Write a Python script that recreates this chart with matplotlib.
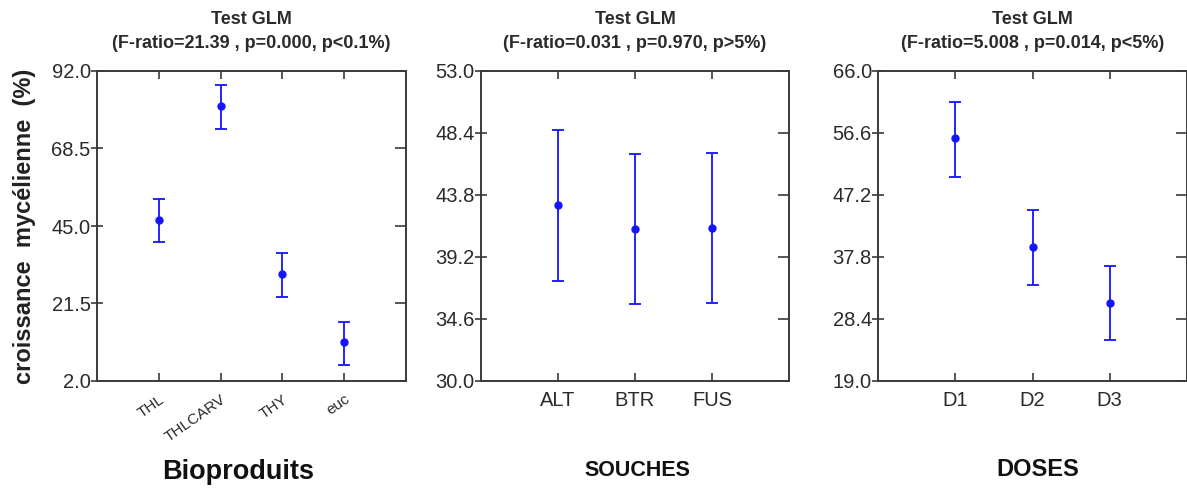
import matplotlib
matplotlib.use("Agg")
import matplotlib.pyplot as plt
import numpy as np

plt.rcParams['font.family'] = ['Liberation Sans', 'DejaVu Sans']

# Panel 1: Bioproduits
bio_cats = ["THL", "THLCARV", "THY", "euc"]
bio_mean = [46.7, 81.4, 30.3, 9.7]
bio_low = [40.0, 74.5, 23.5, 2.8]
bio_high = [53.1, 87.7, 36.9, 16.0]
bio_ticks = [-2.0, 21.5, 45.0, 68.5, 92.0]
bio_ticklabels = ["2.0", "21.5", "45.0", "68.5", "92.0"]

# Panel 2: Souches
sou_cats = ["ALT", "BTR", "FUS"]
sou_mean = [43.05, 41.3, 41.36]
sou_low = [37.4, 35.7, 35.76]
sou_high = [48.6, 46.86, 46.9]
sou_ticks = [30.0, 34.6, 39.2, 43.8, 48.4, 53.0]

# Panel 3: Doses
dos_cats = ["D1", "D2", "D3"]
dos_mean = [55.8, 39.3, 30.9]
dos_low = [50.0, 33.6, 25.2]
dos_high = [61.3, 44.9, 36.5]
dos_ticks = [19.0, 28.4, 37.8, 47.2, 56.6, 66.0]

titles = ["(F-ratio=21.39 , p=0.000, p<0.1%)",
          "(F-ratio=0.031 , p=0.970, p>5%)",
          "(F-ratio=5.008 , p=0.014, p<5%)"]

W, H = 1187, 488
fig = plt.figure(figsize=(W / 100, H / 100), dpi=100)

blue = "#1414ff"
dark = "#2a2a2a"

def make_axes(left_px, right_px):
    return fig.add_axes([left_px / W, 1 - 381 / H, (right_px - left_px) / W, (381 - 71) / H])

def style(ax, yticks, ylabels):
    ax.set_yticks(yticks)
    ax.set_yticklabels(ylabels)
    ax.set_ylim(yticks[0], yticks[-1])
    for s in ax.spines.values():
        s.set_linewidth(1.4)
        s.set_color("#3a3a3a")
    ax.tick_params(axis="y", which="both", direction="inout", length=9, width=1.2,
                   labelsize=14.5, pad=0, colors="#3a3a3a", labelcolor=dark,
                   right=True)
    ax.tick_params(axis="y", which="both", right=True)
    ax.tick_params(axis="x", direction="in", length=6, width=1.2, top=True,
                   colors="#3a3a3a", labelcolor=dark)

def draw(ax, cats, mean, low, high):
    x = np.arange(1, len(cats) + 1)
    m = np.array(mean)
    yerr = [m - np.array(low), np.array(high) - m]
    ax.errorbar(x, m, yerr=yerr, fmt="o", color=blue, ecolor=blue, markersize=5,
                capsize=4, elinewidth=1.3, capthick=1.3)
    ax.set_xticks(x)
    ax.set_xlim(0, len(cats) + 1)

# Panel 1
ax1 = make_axes(97, 406)
draw(ax1, bio_cats, bio_mean, bio_low, bio_high)
style(ax1, bio_ticks, bio_ticklabels)
ax1.set_xticklabels(bio_cats, rotation=35, ha="right", rotation_mode="anchor", fontsize=11)
ax1.tick_params(axis="x", pad=8)

# Panel 2
ax2 = make_axes(481, 789)
draw(ax2, sou_cats, sou_mean, sou_low, sou_high)
style(ax2, sou_ticks, [f"{t:.1f}" for t in sou_ticks])
ax2.set_xticklabels(sou_cats, fontsize=14.5)
ax2.tick_params(axis="x", pad=7)

# Panel 3
ax3 = make_axes(878, 1187)
draw(ax3, dos_cats, dos_mean, dos_low, dos_high)
style(ax3, dos_ticks, [f"{t:.1f}" for t in dos_ticks])
ax3.set_xticklabels(dos_cats, fontsize=14.5)
ax3.tick_params(axis="x", pad=7)

for ax in (ax1, ax2, ax3):
    # right-side ticks point inward only
    for tl in ax.yaxis.get_ticklines()[1::2]:
        tl.set_marker(matplotlib.markers.TICKLEFT)
        tl.set_markersize(8)

for ax, t in zip([ax1, ax2, ax3], titles):
    bb = ax.get_position()
    cx = (bb.x0 + bb.x1) / 2
    fig.text(cx, 1 - 20 / H, "Test GLM", ha="center", va="center", fontsize=13,
             fontweight="bold", color=dark)
    fig.text(cx, 1 - 43 / H, t, ha="center", va="center", fontsize=13,
             fontweight="bold", color=dark)

fig.text(25 / W, 1 - 226 / H, "croissance  mycélienne  (%)", rotation=90, ha="center",
         va="center", fontsize=17, fontweight="bold", color="#222222")

fig.text(238 / W, 1 - 472 / H, "Bioproduits", ha="center", va="center", fontsize=19.5,
         fontweight="bold", color="#111111")
fig.text(637 / W, 1 - 470 / H, "SOUCHES", ha="center", va="center", fontsize=15.5,
         fontweight="bold", color="#111111")
fig.text(1038 / W, 1 - 470 / H, "DOSES", ha="center", va="center", fontsize=17,
         fontweight="bold", color="#111111")

fig.savefig("out.png", dpi=100)
